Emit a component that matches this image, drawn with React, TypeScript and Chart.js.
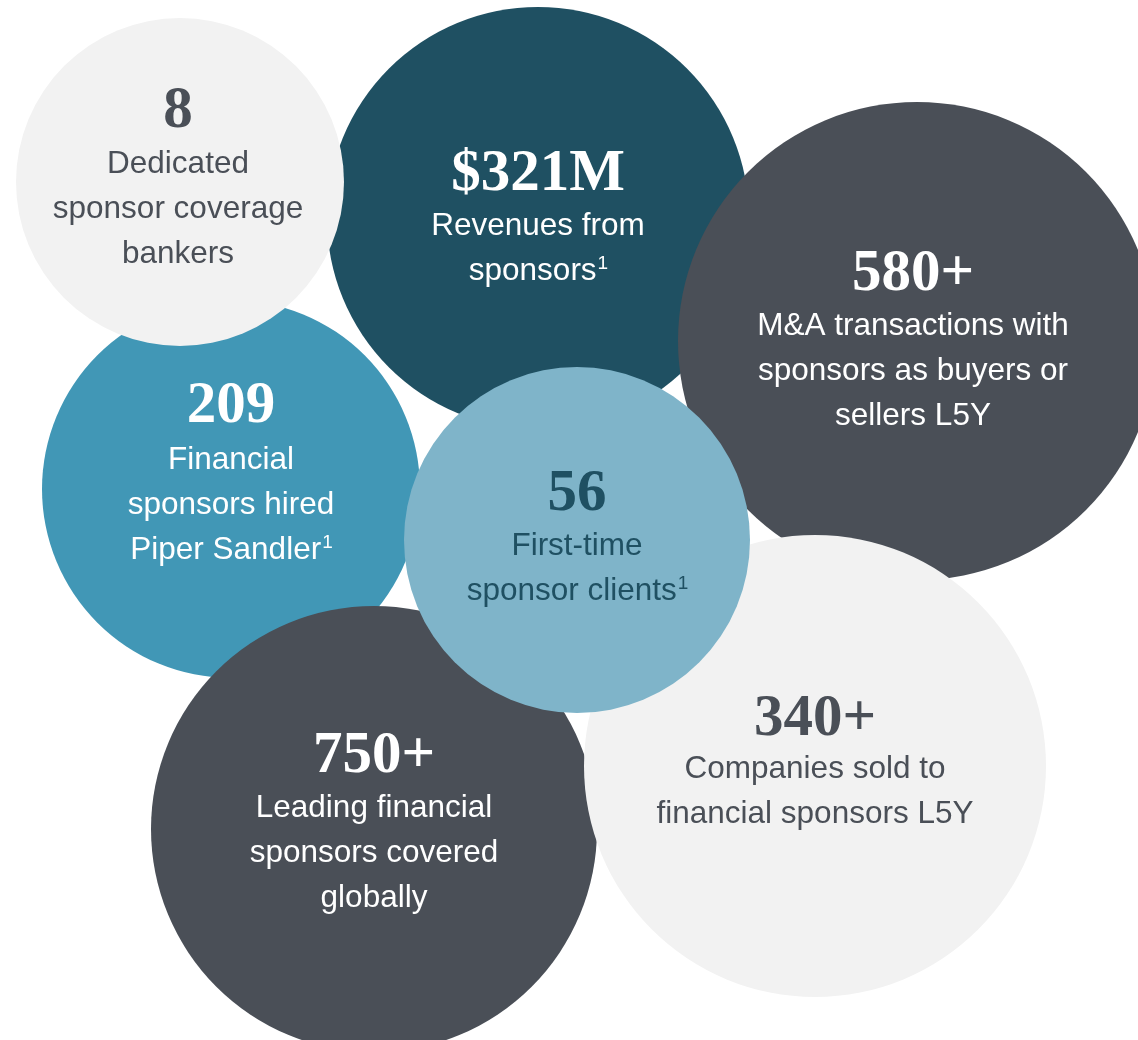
import React, { useEffect, useRef } from "react";
import { Chart, registerables } from "chart.js";

Chart.register(...registerables);

const W = 1138;
const H = 1040;

// Bubbles listed bottom-to-top in drawing order
const bubbleNames = ["321M", "580+", "209", "8", "750+", "340+", "56"];
const bubbleX = [538, 917, 231, 180, 374, 815, 577];
const bubbleY = [218, 341, 489, 182, 829, 766, 540];
const bubbleR = [211, 239, 189, 164, 223, 231, 173];
const bubbleColors = ["#1f5062", "#4a4f57", "#4197b6", "#f2f2f2", "#4a4f57", "#f2f2f2", "#7fb4c9"];
const textColors = ["#ffffff", "#ffffff", "#ffffff", "#4a4f57", "#ffffff", "#4a4f57", "#1f5062"];

const headlines = ["$321M", "580+", "209", "8", "750+", "340+", "56"];
const headlineX = [538, 913, 231, 178, 374, 815, 577];
const headlineBase = [190, 290, 422, 127, 772, 735, 510];
const descriptions = [
  ["Revenues from", "sponsors\u00b9"],
  ["M&A transactions with", "sponsors as buyers or", "sellers L5Y"],
  ["Financial", "sponsors hired", "Piper Sandler\u00b9"],
  ["Dedicated", "sponsor coverage", "bankers"],
  ["Leading financial", "sponsors covered", "globally"],
  ["Companies sold to", "financial sponsors L5Y"],
  ["First-time", "sponsor clients\u00b9"],
];
const firstLineBase = [235, 335, 469, 173, 817, 778, 555];
const lineGap = 45;

const numFont = 'bold 59px "Liberation Serif", "Times New Roman", serif';
const bodyFont = '31.5px "Liberation Sans", Arial, sans-serif';
const supFont = '19px "Liberation Sans", Arial, sans-serif';

const labelPlugin = {
  id: "bubbleLabels",
  afterDatasetsDraw(chart: any) {
    const ctx = chart.ctx;
    const xs = chart.scales.x;
    const ys = chart.scales.y;
    ctx.save();
    ctx.textBaseline = "alphabetic";
    for (let i = 0; i < headlines.length; i++) {
      const cx = xs.getPixelForValue(headlineX[i]);
      ctx.fillStyle = textColors[i];
      ctx.font = numFont;
      ctx.textAlign = "center";
      ctx.fillText(headlines[i], cx, ys.getPixelForValue(headlineBase[i]));
      descriptions[i].forEach((line, j) => {
        const y = ys.getPixelForValue(firstLineBase[i] + j * lineGap);
        const hasSup = line.endsWith("\u00b9");
        const main = hasSup ? line.slice(0, -1) : line;
        ctx.font = bodyFont;
        const mw = ctx.measureText(main).width;
        let sw = 0;
        if (hasSup) {
          ctx.font = supFont;
          sw = ctx.measureText("1").width;
        }
        const start = cx - (mw + sw) / 2;
        ctx.textAlign = "left";
        ctx.font = bodyFont;
        ctx.fillText(main, start, y);
        if (hasSup) {
          ctx.font = supFont;
          ctx.fillText("1", start + mw + 1, y - 11);
        }
      });
    }
    ctx.restore();
  },
};

export default function App() {
  const ref = useRef<HTMLCanvasElement | null>(null);
  useEffect(() => {
    if (!ref.current) return;
    const chart = new Chart(ref.current, {
      type: "bubble",
      data: {
        labels: bubbleNames,
        datasets: [
          {
            data: bubbleX.map((x, i) => ({ x, y: bubbleY[i], r: bubbleR[i] })),
            backgroundColor: bubbleColors,
            borderWidth: 0,
            hoverBorderWidth: 0,
            hoverRadius: 0,
            clip: false as any,
          },
        ],
      },
      options: {
        animation: false,
        responsive: false,
        maintainAspectRatio: false,
        layout: { padding: 0, autoPadding: false } as any,
        events: [],
        plugins: { legend: { display: false }, tooltip: { enabled: false } },
        scales: {
          x: { type: "linear", min: 0, max: W, display: false },
          y: { type: "linear", min: 0, max: H, reverse: true, display: false },
        },
      },
      plugins: [labelPlugin],
    });
    return () => chart.destroy();
  }, []);
  return (
    <div style={{ position: "absolute", left: 0, top: 0, width: W, height: H, background: "#ffffff" }}>
      <canvas ref={ref} width={W} height={H} style={{ display: "block" }} />
    </div>
  );
}
